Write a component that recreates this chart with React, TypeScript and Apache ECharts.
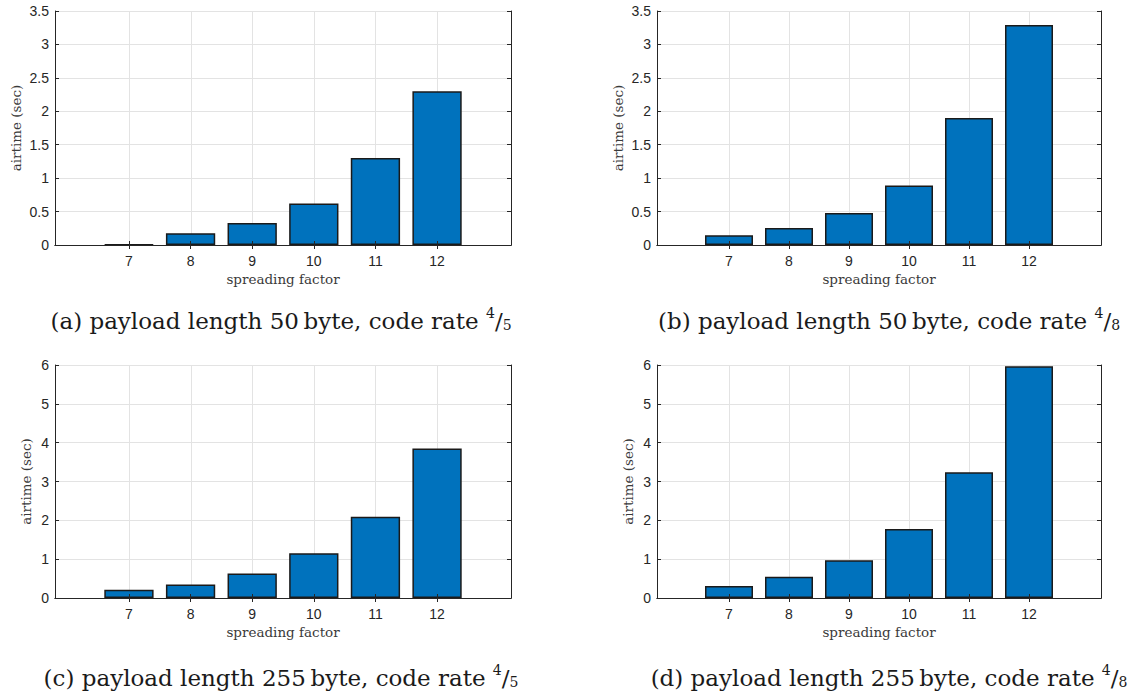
import React, { useEffect, useRef } from 'react';
import * as echarts from 'echarts';

const spreadingFactors = [7, 8, 9, 10, 11, 12];
const airtimeA = [0.01, 0.175, 0.33, 0.62, 1.3, 2.3];
const airtimeB = [0.145, 0.255, 0.48, 0.89, 1.9, 3.29];
const airtimeC = [0.21, 0.35, 0.63, 1.15, 2.09, 3.85];
const airtimeD = [0.31, 0.55, 0.97, 1.78, 3.24, 5.97];
const yMaxTop = 3.5;
const yStepTop = 0.5;
const yMaxBottom = 6;
const yStepBottom = 1;
const xMin = 5.8;
const xMax = 13.2;
const captionLabels = ['(a)', '(b)', '(c)', '(d)'];
const payloadLengths = ['50', '50', '255', '255'];
const codeRateDen = ['5', '8', '5', '8'];

const DARK = '#262626';
const GRIDC = '#e3e3e3';
const SANS = 'Liberation Sans, Arial, sans-serif';
const SERIF = 'DejaVu Serif, serif';

const panels = [
  { data: airtimeA, yMax: yMaxTop, yStep: yStepTop, grid: { left: 55, top: 11, width: 456, height: 234 }, nameGap: 32, cap: { x: 281, y: 319 } },
  { data: airtimeB, yMax: yMaxTop, yStep: yStepTop, grid: { left: 657, top: 11, width: 444, height: 234 }, nameGap: 32, cap: { x: 889, y: 319 } },
  { data: airtimeC, yMax: yMaxBottom, yStep: yStepBottom, grid: { left: 55, top: 365, width: 456, height: 233 }, nameGap: 22, cap: { x: 281, y: 676 } },
  { data: airtimeD, yMax: yMaxBottom, yStep: yStepBottom, grid: { left: 657, top: 365, width: 444, height: 233 }, nameGap: 22, cap: { x: 889, y: 676 } },
];

export default function App() {
  const ref = useRef<HTMLDivElement>(null);
  useEffect(() => {
    if (!ref.current) return;
    const chart = echarts.init(ref.current, undefined, { renderer: 'svg' });
    const grids: any[] = [];
    const xAxes: any[] = [];
    const yAxes: any[] = [];
    const series: any[] = [];
    const graphics: any[] = [];
    panels.forEach((p, i) => {
      grids.push({ ...p.grid, containLabel: false });
      const xCommon = { type: 'value', gridIndex: i, min: xMin, max: xMax };
      xAxes.push({
        ...xCommon, position: 'bottom',
        axisLine: { show: false },
        axisTick: { show: false },
        axisLabel: { show: false },
        splitLine: { show: false },
      });
      xAxes.push({
        ...xCommon, position: 'bottom', z: 5,
        axisLine: { show: true, lineStyle: { color: DARK, width: 1 } },
        axisTick: { show: true, inside: true, length: 4, customValues: spreadingFactors, lineStyle: { color: DARK } },
        axisLabel: { show: true, customValues: spreadingFactors, margin: 9, fontFamily: SANS, fontSize: 14, color: DARK },
        splitLine: { show: false },
        name: 'spreading factor', nameLocation: 'middle', nameGap: 27,
        nameTextStyle: { fontFamily: SERIF, fontSize: 13.5, color: '#3a3a3a' },
      });
      xAxes.push({
        ...xCommon, position: 'top', z: 5,
        axisLine: { show: true, lineStyle: { color: DARK, width: 1 } },
        axisTick: { show: true, inside: true, length: 4, customValues: spreadingFactors, lineStyle: { color: DARK } },
        axisLabel: { show: false },
        splitLine: { show: false },
      });
      const yCommon = { type: 'value', gridIndex: i, min: 0, max: p.yMax, interval: p.yStep };
      yAxes.push({
        ...yCommon, position: 'left',
        axisLine: { show: false }, axisTick: { show: false }, axisLabel: { show: false },
        splitLine: { show: true, lineStyle: { color: GRIDC, width: 1 } },
      });
      yAxes.push({
        ...yCommon, position: 'left', z: 5,
        axisLine: { show: true, lineStyle: { color: DARK, width: 1 } },
        axisTick: { show: true, inside: true, length: 4, lineStyle: { color: DARK } },
        axisLabel: { show: true, margin: 6, fontFamily: SANS, fontSize: 14, color: DARK },
        splitLine: { show: false },
        name: 'airtime (sec)', nameLocation: 'middle', nameGap: p.nameGap,
        nameTextStyle: { fontFamily: SERIF, fontSize: 13.5, color: '#3a3a3a' },
      });
      yAxes.push({
        ...yCommon, position: 'right', z: 5,
        axisLine: { show: true, lineStyle: { color: DARK, width: 1 } },
        axisTick: { show: true, inside: true, length: 4, lineStyle: { color: DARK } },
        axisLabel: { show: false },
        splitLine: { show: false },
      });
      // vertical grid lines at the x ticks
      series.push({
        type: 'custom', xAxisIndex: i * 3, yAxisIndex: i * 3, z: 1, silent: true,
        data: spreadingFactors.map((sf) => [sf, 0]),
        renderItem: (params: any, api: any) => {
          const x = Math.round(api.coord([api.value(0), 0])[0]) + 0.5;
          const cs = params.coordSys;
          return {
            type: 'line',
            shape: { x1: x, y1: cs.y, x2: x, y2: cs.y + cs.height },
            style: { stroke: GRIDC, lineWidth: 1 },
          };
        },
      });
      const barW = (0.8 * p.grid.width) / (xMax - xMin);
      series.push({
        type: 'bar', xAxisIndex: i * 3, yAxisIndex: i * 3, z: 2,
        data: spreadingFactors.map((sf, k) => [sf, p.data[k]]),
        barWidth: barW,
        itemStyle: { color: '#0072BD', borderColor: '#1a1a1a', borderWidth: 1.5 },
      });
      graphics.push({
        type: 'text', x: p.cap.x, y: p.cap.y,
        style: {
          text: `{m|${captionLabels[i]} payload length ${payloadLengths[i]}\u2009byte, code rate }{n|4}{m|/}{d|${codeRateDen[i]}}`,
          align: 'center',
          verticalAlign: 'middle',
          rich: {
            m: { fontFamily: SERIF, fontSize: 23, fill: '#1a1a1a', verticalAlign: 'bottom', lineHeight: 26 },
            n: { fontFamily: SERIF, fontSize: 14, fill: '#1a1a1a', verticalAlign: 'top', lineHeight: 24 },
            d: { fontFamily: SERIF, fontSize: 14, fill: '#1a1a1a', verticalAlign: 'bottom', lineHeight: 21 },
          },
        },
      });
    });
    chart.setOption({
      animation: false,
      backgroundColor: '#ffffff',
      grid: grids,
      xAxis: xAxes,
      yAxis: yAxes,
      series,
      graphic: graphics,
    });
    return () => chart.dispose();
  }, []);
  return <div ref={ref} style={{ position: 'fixed', left: 0, top: 0, width: 1134, height: 693 }} />;
}
